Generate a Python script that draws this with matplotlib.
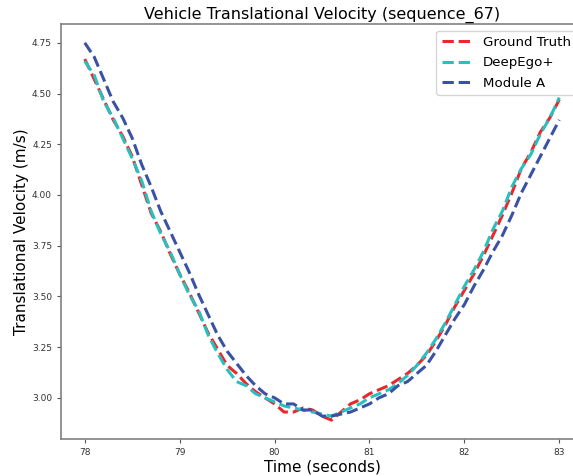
import numpy as np
import matplotlib
matplotlib.use('Agg')
import matplotlib.pyplot as plt

# ---------- Data (0.1 s steps) ----------
time_s = np.round(np.arange(78.0, 83.0001, 0.1), 1)

ground_truth = [
    4.67, 4.57, 4.47, 4.37, 4.29, 4.19, 4.05, 3.91, 3.82, 3.71,
    3.61, 3.52, 3.42, 3.32, 3.24, 3.16, 3.12, 3.07, 3.03, 3.00,
    2.97, 2.93, 2.93, 2.95, 2.94, 2.91, 2.89, 2.93, 2.97, 2.99,
    3.02, 3.04, 3.06, 3.09, 3.12, 3.16, 3.21, 3.28, 3.36, 3.45,
    3.53, 3.61, 3.70, 3.80, 3.90, 4.01, 4.13, 4.21, 4.31, 4.38,
    4.47,
]

deepego = [
    4.66, 4.59, 4.46, 4.38, 4.28, 4.18, 4.07, 3.92, 3.81, 3.72,
    3.61, 3.51, 3.43, 3.31, 3.22, 3.14, 3.08, 3.06, 3.02, 3.00,
    2.98, 2.96, 2.95, 2.94, 2.93, 2.92, 2.91, 2.93, 2.95, 2.97,
    3.00, 3.02, 3.04, 3.07, 3.11, 3.16, 3.22, 3.29, 3.37, 3.46,
    3.55, 3.63, 3.72, 3.83, 3.92, 4.04, 4.13, 4.20, 4.30, 4.38,
    4.48,
]

module_a = [
    4.75, 4.68, 4.57, 4.46, 4.38, 4.28, 4.15, 4.04, 3.92, 3.82,
    3.72, 3.62, 3.51, 3.41, 3.31, 3.23, 3.17, 3.11, 3.06, 3.02,
    3.00, 2.97, 2.97, 2.94, 2.94, 2.91, 2.91, 2.92, 2.93, 2.95,
    2.97, 3.00, 3.02, 3.06, 3.08, 3.12, 3.16, 3.23, 3.31, 3.39,
    3.46, 3.55, 3.63, 3.72, 3.80, 3.90, 4.01, 4.10, 4.19, 4.28,
    4.37,
]

series = [
    ('Ground Truth', ground_truth, '#e8282c'),
    ('DeepEgo+', deepego, '#29bfbf'),
    ('Module A', module_a, '#3a52a3'),
]

# ---------- Plot ----------
fig = plt.figure(figsize=(5.73, 4.76), dpi=100)
ax = fig.add_axes([0.1065, 0.0777, 0.911, 0.872])

for label, vals, color in series:
    ax.plot(time_s, vals, linestyle='--', linewidth=2.2, color=color, label=label)

ax.set_title('Vehicle Translational Velocity (sequence_67)', fontsize=11.5, pad=4)
ax.set_xlabel('Time (seconds)', fontsize=11, labelpad=2)
ax.set_ylabel('Translational Velocity (m/s)', fontsize=11, labelpad=2)

ax.set_yticks([3.00, 3.25, 3.50, 3.75, 4.00, 4.25, 4.50, 4.75])
ax.tick_params(axis='both', labelsize=6.5, length=3, width=0.8,
               color='#555555', labelcolor='#333333')

for sp in ax.spines.values():
    sp.set_color('#808080')
    sp.set_linewidth(1.2)

leg = ax.legend(loc='upper right', fontsize=9.6, frameon=True,
                handlelength=2.3, labelspacing=0.55, borderaxespad=0.5)
leg.get_frame().set_edgecolor('#cccccc')

fig.savefig('out.png', dpi=100)
